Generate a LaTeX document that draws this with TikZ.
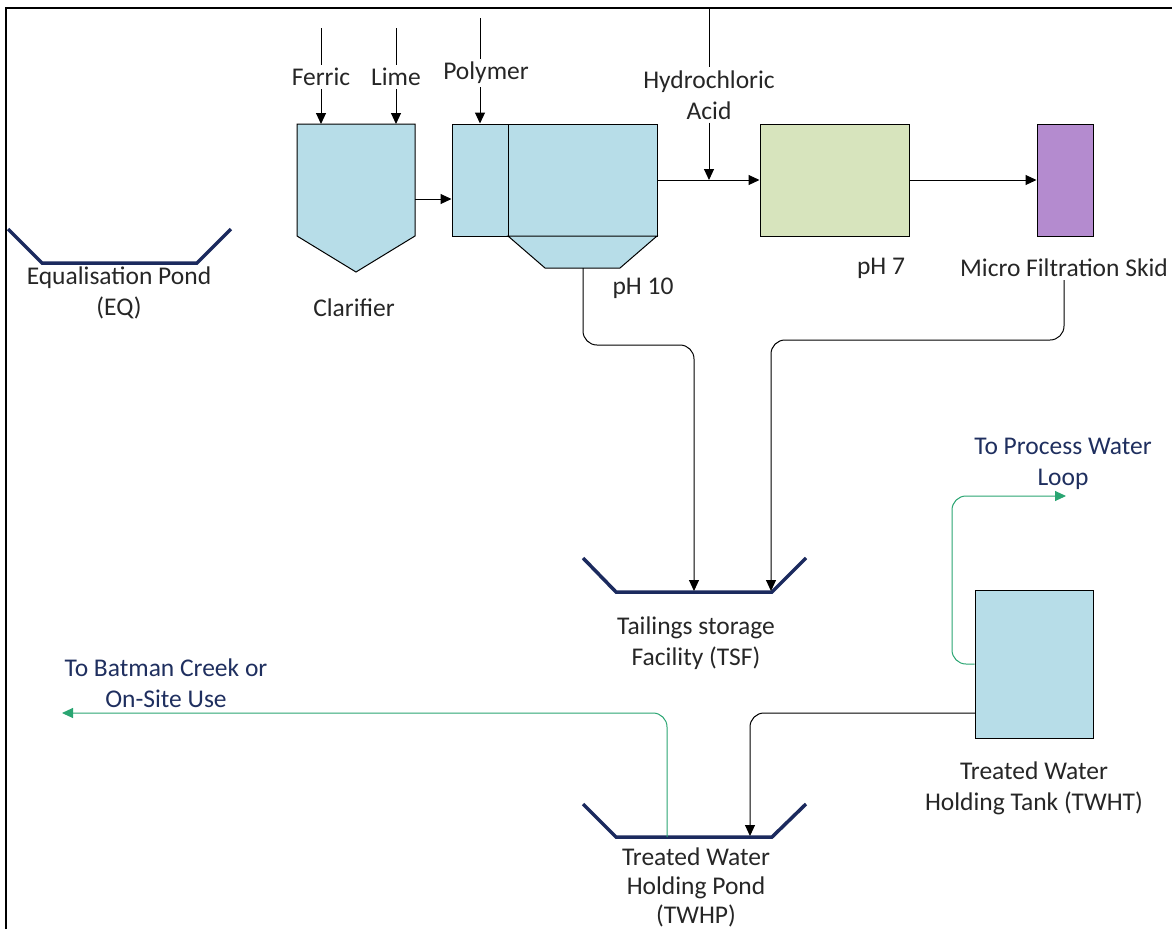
\documentclass[tikz,border=0pt]{standalone}
\usepackage{fontspec}
\setmainfont{Carlito}
\usepackage{xcolor}
\usetikzlibrary{positioning, arrows.meta}

\definecolor{tankBlue}{HTML}{B7DDE8}
\definecolor{tankGreen}{HTML}{D7E4BD}
\definecolor{skidPurple}{HTML}{B48BCF}
\definecolor{pondNavy}{HTML}{1B2A5E}
\definecolor{flowGreen}{HTML}{2AA572}
\definecolor{textNavy}{HTML}{1F2F5F}
\definecolor{textGrey}{HTML}{262626}

\tikzset{
	tank/.style = {draw, line width=1pt, fill=tankBlue, inner sep=0pt},
	pond/.style = {draw=pondNavy, line width=3.5pt},
	lbl/.style = {font=\fontsize{25.5}{31}\selectfont, text=textGrey, align=center, inner sep=3pt},
	dest/.style = {lbl, text=textNavy},
	flow/.style = {-{Triangle[length=11pt, width=10pt]}, line width=1pt},
	greenflow/.style = {flow, draw=flowGreen},
}

\begin{document}
\begin{tikzpicture}[x=1pt, y=-1pt]
					\def\rc{14pt};
					\useasboundingbox (0,0) rectangle (1172,929);

					\draw[line width=2pt] (6,929) -- (6,8) -- (1172,8);

					\begin{scope}
						\draw[pond] (8,229) -- (42,263) -- (197,263) -- (231,229);
						\node[lbl] (eqlbl) at (119,293) {Equalisation Pond\\(EQ)};

						\draw[line width=1pt, fill=tankBlue] (297,124) -- (415,124) -- (415,236) -- (356,272) -- (297,236) -- cycle;
						\coordinate (clarout) at (415,199);
						\coordinate (clartop) at (356,124);
						\node[lbl] (clarlbl) at (354,308) {Clarifier};

						\node[tank, minimum width=56pt, minimum height=112pt] (floc) at (480,180) {};
						\node[tank, minimum width=149pt, minimum height=112pt] (mix) at (582.5,180) {};
						\draw[line width=1pt, fill=tankBlue] (508,236) -- (657,236) -- (620,268) -- (545,268) -- cycle;
						\coordinate (hopbot) at (583,268);
						\node[lbl] (ph10lbl) at (643,288) {pH 10};

						\node[tank, fill=tankGreen, minimum width=149pt, minimum height=112pt] (ph7) at (834.5,180) {};
						\node[lbl] (ph7lbl) at (881,268) {pH 7};

						\node[tank, fill=skidPurple, minimum width=56pt, minimum height=112pt] (mf) at (1065,180) {};
						\node[lbl] (mflbl) at (1064,268) {Micro Filtration Skid};
					\end{scope}

					\begin{scope}
						\node[lbl] (ferric) at (321,77) {Ferric};
						\node[lbl] (lime) at (396,77) {Lime};
						\node[lbl] (polymer) at (486,73) {Polymer};
						\node[lbl] (hcl) at (709,95) {Hydrochloric\\Acid};
						\coordinate (ferrictop) at (321,28);
						\coordinate (limetop) at (396,28);
						\coordinate (polytop) at (480,18);
						\coordinate (hcltop) at (709,8);
						\coordinate (hcljoin) at (709,180);

						\draw[line width=1pt] (ferrictop) -- (ferric);
						\draw[line width=1pt] (limetop) -- (lime);
						\draw[line width=1pt] (polytop) -- (polytop |- polymer.north);
						\draw[line width=1pt] (hcltop) -- (hcl);
						\draw[flow] (ferric) -- (ferric |- clartop);
						\draw[flow] (lime) -- (lime |- clartop);
						\draw[flow] (polytop |- polymer.south) -- (polytop |- floc.north);
						\draw[flow] (hcl) -- (hcljoin);
					\end{scope}

					\begin{scope}[flow]
						\draw (clarout) -- (clarout -| floc.west);
						\draw (mix.east) -- (ph7.west);
						\draw (ph7.east) -- (mf.west);
					\end{scope}

					\begin{scope}
						\draw[pond] (583,558) -- (616,592) -- (772,592) -- (806,558);
						\coordinate (tsfinA) at (694,591);
						\coordinate (tsfinB) at (771,591);
						\node[lbl] (tsflbl) at (696,643) {Tailings storage\\Facility (TSF)};

						\draw[flow, rounded corners=\rc] (hopbot) -- (hopbot |- 0,345) -| (tsfinA);
						\draw[flow, rounded corners=\rc] (mflbl.south) -- (mflbl.south |- 0,340) -| (tsfinB);
					\end{scope}

					\begin{scope}
						\node[tank, minimum width=118pt, minimum height=148pt] (twht) at (1034,664) {};
						\node[lbl] (twhtlbl) at (1034,788) {Treated Water\\Holding Tank (TWHT)};
						\coordinate (loopend) at (1066,496);
						\node[dest] (looplbl) at (1063,464) {To Process Water\\Loop};
						\draw[greenflow, rounded corners=\rc] (twht.west) -- (952,664) |- (loopend);

						\draw[pond] (583,804) -- (616,837) -- (772,837) -- (806,804);
						\node[lbl, font=\fontsize{25.5}{29}\selectfont] (twhplbl) at (696,887) {Treated Water\\Holding Pond\\(TWHP)};
						\coordinate (twhtout) at (975,713);
						\coordinate (twhpin) at (750,836);
						\coordinate (twhpout) at (667,837);
						\coordinate (batend) at (62,713);
						\node[dest] (batlbl) at (166,683) {To Batman Creek or\\On-Site Use};

						\draw[flow, rounded corners=\rc] (twhtout) -| (twhpin);
						\draw[greenflow, rounded corners=\rc] (twhpout) |- (batend);
					\end{scope}
				\end{tikzpicture}
\end{document}
